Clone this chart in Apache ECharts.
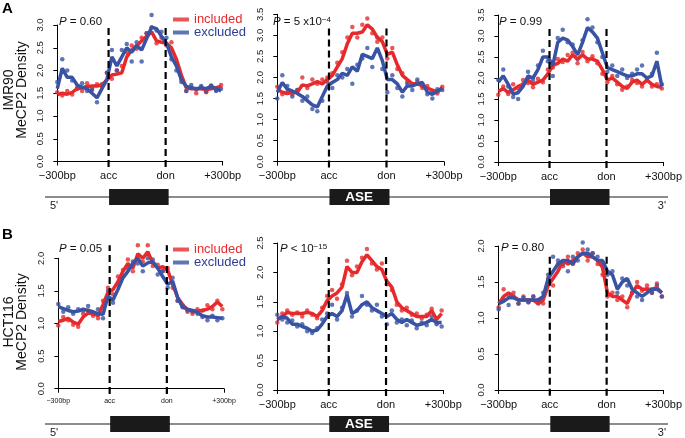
<!DOCTYPE html>
<html><head><meta charset="utf-8">
<script src="https://cdn.jsdelivr.net/npm/echarts@6/dist/echarts.min.js"></script>
<style>html,body{margin:0;padding:0;background:#fff}#c{width:685px;height:438px}</style>
</head><body><div id="c"></div>
<script>
// ---------- DATA ----------
const xPos = [0,3,6,9,12,15,18,21,24,27,30,33,36,39,42,45,48,51,54,57,60,63,66,69,72,75,78,81,84,87,90,93,96,99];
const accPos = 31, donPos = 65.5;
const xTickPos = [0, accPos, donPos, 100];
const xTickLabels = ['\u2212300bp', 'acc', 'don', '+300bp'];
const seriesNames = ['included', 'excluded'];

// Panel A1 (IMR90, P = 0.60)
const a1IncLine = [1.47,1.50,1.48,1.52,1.60,1.62,1.65,1.66,1.66,1.68,1.80,1.90,1.92,1.95,2.30,2.45,2.55,2.65,2.75,2.85,2.65,2.62,2.60,2.50,2.25,1.90,1.62,1.60,1.60,1.60,1.58,1.60,1.62,1.65];
const a1IncDots = [1.52,1.45,1.55,1.47,1.62,1.55,1.72,1.60,1.70,1.65,1.95,1.82,2.00,2.10,2.40,2.55,2.48,2.72,2.82,2.95,2.60,2.72,2.55,2.62,2.15,1.80,1.55,1.62,1.50,1.63,1.52,1.66,1.57,1.68];
const a1ExcLine = [1.60,2.05,1.85,1.85,1.68,1.63,1.60,1.50,1.40,1.60,1.80,2.30,2.10,2.30,2.50,2.40,2.55,2.45,2.70,2.95,2.92,2.75,2.60,2.30,2.10,1.80,1.65,1.62,1.60,1.62,1.60,1.65,1.60,1.55];
const a1ExcDots = [1.75,2.25,2.00,1.78,1.60,1.72,1.55,1.57,1.30,1.70,1.95,2.45,2.00,2.45,2.58,2.20,2.62,2.20,2.82,3.22,2.88,2.85,2.72,2.25,2.00,1.75,1.55,1.68,1.58,1.66,1.54,1.67,1.55,1.60];
// Panel A2 (IMR90, P = 5x10^-4)
const a2IncLine = [1.72,1.65,1.62,1.65,1.65,1.82,1.80,1.85,1.90,1.85,1.95,2.05,2.25,2.45,2.80,3.05,3.05,3.08,3.25,3.15,2.95,2.85,2.55,2.60,2.30,2.05,1.95,1.85,1.85,1.80,1.75,1.70,1.65,1.75];
const a2IncDots = [1.78,1.60,1.65,1.60,1.70,2.00,1.75,1.95,1.85,1.95,2.00,2.10,2.35,2.60,2.95,3.20,2.95,3.25,3.40,3.05,2.85,2.95,2.45,2.70,2.20,2.10,1.90,1.82,1.90,1.75,1.80,1.65,1.62,1.78];
const a2ExcLine = [1.65,1.88,1.72,1.68,1.62,1.55,1.45,1.35,1.30,1.55,1.80,1.88,1.95,2.10,2.05,2.25,2.15,2.55,2.50,2.45,2.70,2.40,1.95,1.95,1.85,1.65,1.80,1.80,1.85,1.88,1.65,1.60,1.68,1.75];
const a2ExcDots = [1.50,2.05,1.80,1.55,1.70,1.45,1.55,1.25,1.20,1.45,1.90,1.75,2.05,2.00,2.20,1.85,2.30,2.45,2.70,2.25,2.95,2.20,1.65,2.05,1.75,1.55,1.85,1.70,1.95,1.80,1.60,1.50,1.72,1.70];
// Panel A3 (IMR90, P = 0.99)
const a3IncLine = [1.68,1.75,1.65,1.72,1.80,1.85,1.95,1.85,1.90,1.95,2.10,2.30,2.35,2.45,2.40,2.55,2.45,2.55,2.45,2.45,2.40,2.20,1.95,2.00,1.90,1.80,1.75,1.90,1.95,1.85,1.95,1.85,1.80,1.78];
const a3IncDots = [1.60,1.80,1.62,1.85,1.75,1.95,1.88,1.78,1.98,1.90,2.20,2.25,2.45,2.38,2.55,2.60,2.35,2.62,2.40,2.52,2.35,2.10,1.90,2.05,1.85,1.72,1.80,1.95,1.88,1.80,2.00,1.80,1.85,1.75];
const a3ExcLine = [1.90,2.05,1.85,1.62,1.65,1.80,2.05,2.00,2.20,2.50,2.50,2.30,2.85,2.95,2.90,2.75,2.55,2.85,3.20,3.10,2.95,2.60,2.25,2.20,2.15,2.10,2.05,2.05,2.10,2.10,2.00,2.05,2.40,1.80];
const a3ExcDots = [1.95,2.20,1.80,1.55,1.50,1.85,2.15,1.95,2.30,2.65,2.40,2.05,2.95,3.15,2.85,2.80,2.45,2.90,3.40,3.20,2.85,2.50,2.15,2.30,2.05,2.20,2.00,2.10,2.20,2.30,1.95,2.10,2.60,1.85];
// Panel B1 (HCT116, P = 0.05)
const b1IncLine = [1.03,1.05,1.08,1.02,0.99,1.10,1.16,1.15,1.12,1.29,1.48,1.52,1.64,1.80,1.92,1.85,2.07,2.00,2.10,1.93,1.85,1.87,1.82,1.60,1.40,1.29,1.21,1.19,1.19,1.20,1.22,1.26,1.33,1.26];
const b1IncDots = [0.97,1.10,1.05,0.98,0.95,1.15,1.20,1.12,1.08,1.35,1.55,1.45,1.72,1.82,1.98,1.80,2.20,1.95,2.20,1.88,1.90,1.80,1.85,1.55,1.35,1.25,1.18,1.15,1.22,1.20,1.28,1.22,1.35,1.22];
const b1ExcLine = [1.26,1.23,1.20,1.18,1.19,1.22,1.20,1.18,1.15,1.14,1.42,1.36,1.52,1.70,1.80,1.92,2.00,1.88,1.93,1.95,1.85,1.72,1.60,1.65,1.40,1.25,1.22,1.20,1.17,1.12,1.10,1.10,1.09,1.08];
const b1ExcDots = [1.30,1.18,1.25,1.15,1.22,1.20,1.27,1.15,1.22,1.08,1.50,1.32,1.60,1.72,1.85,1.95,1.92,1.80,2.00,1.98,1.75,1.80,1.55,1.70,1.35,1.28,1.20,1.18,1.15,1.10,1.05,1.12,1.05,1.08];
// Panel B2 (HCT116, P < 10^-15)
const b2IncLine = [1.20,1.25,1.32,1.30,1.30,1.30,1.32,1.30,1.25,1.35,1.52,1.60,1.65,1.75,2.10,2.00,2.00,2.18,2.30,2.20,2.10,2.05,1.85,1.75,1.50,1.40,1.35,1.30,1.25,1.25,1.25,1.35,1.20,1.30];
const b2IncDots = [1.15,1.30,1.35,1.28,1.32,1.25,1.35,1.28,1.22,1.40,1.60,1.70,1.55,1.80,2.20,1.95,2.10,2.25,2.40,2.15,2.05,2.15,1.80,1.70,1.45,1.35,1.40,1.28,1.30,1.22,1.28,1.38,1.15,1.35];
const b2ExcLine = [1.20,1.25,1.22,1.12,1.12,1.08,1.05,1.00,1.02,1.12,1.25,1.30,1.25,1.35,1.62,1.30,1.35,1.45,1.50,1.40,1.35,1.30,1.25,1.30,1.20,1.15,1.20,1.15,1.10,1.12,1.15,1.20,1.15,1.15];
const b2ExcDots = [1.28,1.20,1.15,1.18,1.08,1.12,1.00,0.97,1.05,1.20,1.30,1.45,1.20,1.40,1.65,1.25,1.35,1.60,1.45,1.35,1.45,1.25,1.12,1.35,1.15,1.20,1.10,1.18,1.05,1.15,1.10,1.25,1.12,1.08];
// Panel B3 (HCT116, P = 0.80)
const b3IncLine = [1.20,1.30,1.35,1.30,1.25,1.25,1.25,1.25,1.20,1.25,1.45,1.55,1.65,1.80,1.75,1.80,1.85,1.90,1.85,1.85,1.80,1.70,1.35,1.30,1.30,1.25,1.20,1.35,1.45,1.40,1.40,1.40,1.42,1.35];
const b3IncDots = [1.15,1.40,1.32,1.35,1.20,1.30,1.22,1.30,1.25,1.20,1.55,1.45,1.75,1.72,1.85,1.75,1.90,1.95,1.80,1.90,1.75,1.60,1.30,1.35,1.25,1.30,1.15,1.35,1.50,1.38,1.45,1.35,1.48,1.30];
const b3ExcLine = [1.20,1.23,1.28,1.28,1.25,1.25,1.25,1.25,1.25,1.30,1.55,1.65,1.75,1.80,1.80,1.75,1.85,1.90,1.90,1.85,1.80,1.80,1.65,1.60,1.40,1.50,1.55,1.40,1.35,1.30,1.35,1.40,1.40,1.35];
const b3ExcDots = [1.12,1.25,1.18,1.30,1.20,1.28,1.22,1.30,1.20,1.35,1.60,1.85,1.80,1.75,1.65,1.85,1.80,2.05,1.95,1.90,1.85,1.75,1.60,1.65,1.35,1.55,1.45,1.35,1.30,1.25,1.40,1.35,1.45,1.30];

const yMaxes = [3.0, 3.5, 3.5, 2.0, 2.5, 2.0];
const dashTops = [2.96, 3.2, 3.2, 2.2, 2.3, 1.88];
const pTexts = ['{i|P} = 0.60', '{i|P} = 5 x10{s|\u22124}', '{i|P} = 0.99', '{i|P} = 0.05', '{i|P} < 10{s|\u221215}', '{i|P} = 0.80'];
const rowLabels = ['IMR90\nMeCP2 Density', 'HCT116\nMeCP2 Density'];

// ---------- BUILD ----------
const RED = '#e62a2c', BLUE = '#3852a4', BLUE_TXT = '#2e3d99';
const FONT = 'Liberation Sans, Arial, Helvetica, sans-serif';
const panels = [
  [a1IncLine, a1IncDots, a1ExcLine, a1ExcDots],
  [a2IncLine, a2IncDots, a2ExcLine, a2ExcDots],
  [a3IncLine, a3IncDots, a3ExcLine, a3ExcDots],
  [b1IncLine, b1IncDots, b1ExcLine, b1ExcDots],
  [b2IncLine, b2IncDots, b2ExcLine, b2ExcDots],
  [b3IncLine, b3IncDots, b3ExcLine, b3ExcDots]
];
// layout: [left, top, width, height]
const gridBoxes = [
  [57.3, 25, 165.4, 136.5],
  [277.3, 14.3, 166.7, 147.4],
  [498.3, 15, 166, 147],
  [58.3, 258.3, 165.7, 130.4],
  [277.3, 243, 166, 147],
  [498.7, 246, 165.6, 144]
];
const pPos = [[59, 22], [273, 22], [499, 22], [59, 249], [280, 249], [501, 248]];
const pair = v => xPos.map((x, i) => [x, v[i]]);

const grid = [], xAxis = [], yAxis = [], series = [];
panels.forEach((pd, p) => {
  const g = gridBoxes[p];
  grid.push({left: g[0], top: g[1], width: g[2], height: g[3], containLabel: false});
  const small = (p === 3);
  xAxis.push({
    gridIndex: p, type: 'value', min: 0, max: 100, offset: 6,
    axisLine: {show: true, lineStyle: {color: '#000', width: 1}},
    axisTick: {show: true, length: 4, customValues: xTickPos, lineStyle: {color: '#000', width: 1}},
    axisLabel: {show: true, customValues: xTickPos, margin: 3, fontSize: small ? 7 : 11, color: '#111', fontFamily: FONT,
      formatter: v => { const k = xTickPos.indexOf(v); return k >= 0 ? xTickLabels[k] : ''; }},
    splitLine: {show: false}
  });
  yAxis.push({
    gridIndex: p, type: 'value', min: 0, max: yMaxes[p], interval: 0.5, offset: 7,
    axisLine: {show: true, lineStyle: {color: '#000', width: 1}},
    axisTick: {show: true, length: 4, lineStyle: {color: '#000', width: 1}},
    axisLabel: {rotate: 90, fontSize: 9.5, color: '#222', margin: 5, fontFamily: FONT, formatter: v => v.toFixed(1)},
    splitLine: {show: false}
  });
  const bot = -0.04 * yMaxes[p], top = dashTops[p];
  series.push({
    type: 'scatter', name: seriesNames[0], xAxisIndex: p, yAxisIndex: p, data: pair(pd[1]),
    symbolSize: 4.5, itemStyle: {color: RED}, clip: false, silent: true, z: 2
  });
  series.push({
    type: 'scatter', name: seriesNames[1], xAxisIndex: p, yAxisIndex: p, data: pair(pd[3]),
    symbolSize: 4.5, itemStyle: {color: BLUE}, clip: false, silent: true, z: 2
  });
  series.push({
    type: 'line', name: seriesNames[0], xAxisIndex: p, yAxisIndex: p, data: pair(pd[0]),
    symbol: 'none', showSymbol: false, lineStyle: {color: RED, width: 3.5}, itemStyle: {color: RED}, clip: false, silent: true, z: 3
  });
  series.push({
    type: 'line', name: seriesNames[1], xAxisIndex: p, yAxisIndex: p, data: pair(pd[2]),
    symbol: 'none', showSymbol: false, lineStyle: {color: BLUE, width: 3.5}, itemStyle: {color: BLUE}, clip: false, silent: true, z: 4
  });
  [accPos, donPos].forEach(xv => {
    series.push({
      type: 'line', name: 'boundary', xAxisIndex: p, yAxisIndex: p, data: [[xv, bot], [xv, top]],
      symbol: 'none', showSymbol: false, clip: false, silent: true, z: 5,
      lineStyle: {color: '#000', width: 2.2, type: [7, 4]}, itemStyle: {color: '#000'}
    });
  });
});

const legendCfg = top => ({
  left: 173, top: top, orient: 'vertical', icon: 'rect', itemWidth: 16, itemHeight: 4, itemGap: 0,
  selectedMode: false, padding: 0,
  textStyle: {fontSize: 13, lineHeight: 11, fontFamily: FONT},
  data: [{name: 'included', textStyle: {color: RED}}, {name: 'excluded', textStyle: {color: BLUE_TXT}}]
});

const chart = echarts.init(document.getElementById('c'), null, {renderer: 'canvas'});
chart.setOption({
  animation: false, backgroundColor: '#fff',
  textStyle: {fontFamily: FONT},
  grid, xAxis, yAxis, series,
  legend: [legendCfg(13), legendCfg(243)]
});

// ---------- ANNOTATIONS ----------
const gfx = [];
pTexts.forEach((t, p) => {
  gfx.push({type: 'text', x: pPos[p][0], y: pPos[p][1], silent: true,
    style: {text: t, fontSize: 11.5, fill: '#111', fontFamily: FONT, align: 'left', verticalAlign: 'middle',
      rich: {i: {fontStyle: 'italic', fontSize: 11.5, fill: '#111', fontFamily: FONT},
             s: {fontSize: 8, fill: '#111', verticalAlign: 'top', fontFamily: FONT}}}});
});
[[16, 90], [16, 322]].forEach((pos, r) => {
  gfx.push({type: 'text', x: pos[0], y: pos[1], rotation: Math.PI / 2, silent: true,
    style: {text: rowLabels[r], fontSize: 14, lineHeight: 13, fill: '#111', fontFamily: FONT, align: 'center', verticalAlign: 'middle'}});
});
gfx.push({type: 'text', x: 2, y: 1, silent: true, style: {text: 'A', fontSize: 15, fontWeight: 'bold', fill: '#000', fontFamily: FONT}});
gfx.push({type: 'text', x: 2, y: 227, silent: true, style: {text: 'B', fontSize: 15, fontWeight: 'bold', fill: '#000', fontFamily: FONT}});

// gene tracks under each row, boxes aligned to acc/don of each panel
[[197, [0, 1, 2]], [424, [3, 4, 5]]].forEach(([ly, idx]) => {
  gfx.push({type: 'line', silent: true, shape: {x1: 45, y1: ly, x2: 668, y2: ly}, style: {stroke: '#8c8c8c', lineWidth: 2}});
  idx.forEach((p, k) => {
    const xa = chart.convertToPixel({xAxisIndex: p}, accPos);
    const xd = chart.convertToPixel({xAxisIndex: p}, donPos);
    gfx.push({type: 'rect', silent: true, shape: {x: xa + 0.5, y: ly - 8, width: xd - xa + 2.5, height: 16}, style: {fill: '#1a1a1a'}});
    if (k === 1) {
      gfx.push({type: 'text', silent: true, x: (xa + xd) / 2 + 1.5, y: ly + 0.5,
        style: {text: 'ASE', fontSize: 13.5, fontWeight: 'bold', fill: '#fff', fontFamily: FONT, align: 'center', verticalAlign: 'middle'}});
    }
  });
  gfx.push({type: 'text', silent: true, x: 50, y: ly + 9, style: {text: "5'", fontSize: 11, fill: '#222', fontFamily: FONT, align: 'left', verticalAlign: 'middle'}});
  gfx.push({type: 'text', silent: true, x: 666, y: ly + 9, style: {text: "3'", fontSize: 11, fill: '#222', fontFamily: FONT, align: 'right', verticalAlign: 'middle'}});
});
chart.setOption({graphic: gfx});
</script>
</body></html>
